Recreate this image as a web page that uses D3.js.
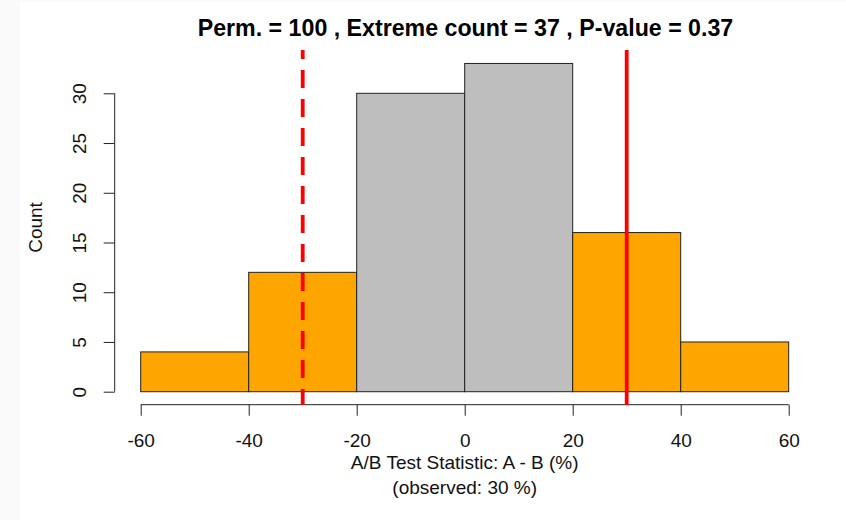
<!DOCTYPE html>
<html>
<head>
<meta charset="utf-8">
<script src="https://cdn.jsdelivr.net/npm/d3@7"></script>
<style>
  body { margin: 0; background: #fafafa; }
  svg { display: block; font-family: "Liberation Sans", Arial, sans-serif; }
</style>
</head>
<body>
<svg width="846" height="520"></svg>
<script>
// histogram of permuted statistics
var binEdges = [-60, -40, -20, 0, 20, 40, 60];
var counts = [4, 12, 30, 33, 16, 5];
var xTicks = [-60, -40, -20, 0, 20, 40, 60];
var yTicks = [0, 5, 10, 15, 20, 25, 30];
var observed = 30;
var nPerm = 100, extremeCount = 37, pValue = 0.37;

var svg = d3.select("svg");
svg.append("rect").attr("x", 20).attr("y", 2).attr("width", 826).attr("height", 518).attr("fill", "white");

var x = d3.scaleLinear().domain([-60, 60]).range([140.7, 788.7]);
var y = d3.scaleLinear().domain([0, 30]).range([391.7, 93.3]);

var bins = counts.map(function(c, i) { return {x0: binEdges[i], x1: binEdges[i + 1], n: c}; });

svg.selectAll("rect.bar").data(bins).enter().append("rect")
    .attr("class", "bar")
    .attr("x", function(d) { return x(d.x0); })
    .attr("y", function(d) { return y(d.n); })
    .attr("width", function(d) { return x(d.x1) - x(d.x0); })
    .attr("height", function(d) { return y(0) - y(d.n); })
    .attr("fill", function(d) {
        return (d.x1 <= -Math.abs(observed) + 10 || d.x0 >= Math.abs(observed) - 10) ? "#FFA500" : "#BEBEBE";
    })
    .attr("stroke", "#222")
    .attr("stroke-width", 1);

// axes
var xAxis = svg.append("g").attr("transform", "translate(0,404.7)")
    .call(d3.axisBottom(x).tickValues(xTicks).tickSize(11).tickFormat(function(d) { return String(d); }));
var yAxis = svg.append("g").attr("transform", "translate(114.7,0)")
    .call(d3.axisLeft(y).tickValues(yTicks).tickSize(11).tickFormat(function(d) { return String(d); }));

[xAxis, yAxis].forEach(function(a) {
    a.select(".domain").attr("stroke", "#222").attr("stroke-width", 1);
    a.selectAll(".tick line").attr("stroke", "#222");
    a.selectAll("text").attr("fill", "#111").style("font-size", "19px")
        .style("font-family", "'Liberation Sans', Arial, sans-serif");
});
xAxis.select(".domain").attr("d", "M" + x(-60) + ",0H" + x(60));
yAxis.select(".domain").attr("d", "M0," + y(0) + "V" + y(30));
xAxis.selectAll(".tick text").attr("dy", null).attr("y", 42.5);
yAxis.selectAll(".tick text")
    .attr("x", null).attr("dy", null)
    .attr("text-anchor", "middle")
    .attr("transform", "translate(-28.7,0) rotate(-90)");

// observed statistic lines
svg.append("line")
    .attr("x1", x(-observed)).attr("x2", x(-observed))
    .attr("y1", 50).attr("y2", 404.5)
    .attr("stroke", "#FF0000").attr("stroke-width", 3.8)
    .attr("stroke-dasharray", "18,11").attr("stroke-dashoffset", 9);
svg.append("line")
    .attr("x1", x(observed)).attr("x2", x(observed))
    .attr("y1", 50).attr("y2", 405)
    .attr("stroke", "#FF0000").attr("stroke-width", 3.8);

// labels
svg.append("text")
    .attr("x", 465.5).attr("y", 36)
    .attr("text-anchor", "middle")
    .style("font-size", "23.2px").style("font-weight", "bold")
    .attr("fill", "#000")
    .text("Perm. = " + nPerm + " , Extreme count = " + extremeCount + " , P-value = " + pValue);

svg.append("text")
    .attr("x", 464.7).attr("y", 468.5)
    .attr("text-anchor", "middle").style("font-size", "19px").attr("fill", "#111")
    .text("A/B Test Statistic: A - B (%)");
svg.append("text")
    .attr("x", 464.7).attr("y", 493.5)
    .attr("text-anchor", "middle").style("font-size", "19px").attr("fill", "#111")
    .text("(observed: " + observed + " %)");

svg.append("text")
    .attr("transform", "translate(42,227.5) rotate(-90)")
    .attr("text-anchor", "middle").style("font-size", "19px").attr("fill", "#111")
    .text("Count");
</script>
</body>
</html>
